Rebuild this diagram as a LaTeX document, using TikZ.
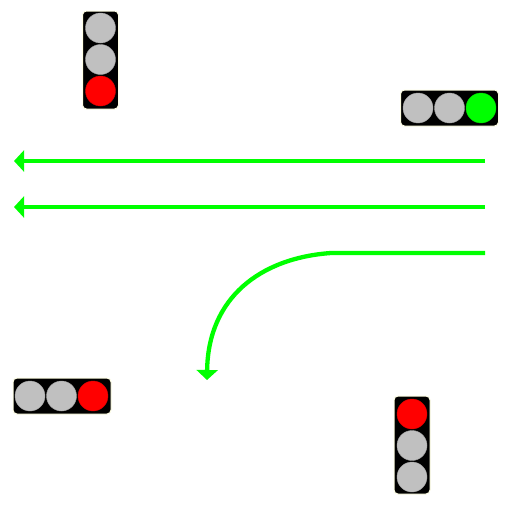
\documentclass[tikz,border=0pt]{standalone}
\usetikzlibrary{arrows.meta}
\definecolor{sigGreen}{HTML}{00FF00}
\definecolor{laneGreen}{HTML}{00FF00}
\definecolor{sigRed}{HTML}{FF0000}
\definecolor{sigOff}{HTML}{C0C0C0}
\definecolor{sigEdge}{HTML}{FFFFE6}
\tikzset{
  x=1pt,y=-1pt,
  housing/.style={draw=sigEdge,line width=1pt,fill=black,rounded corners=4pt,inner sep=0pt,outer sep=0pt},
  housingV/.style={housing,minimum width=36pt,minimum height=98pt},
  housingH/.style={housing,minimum width=98pt,minimum height=36pt},
  lamp/.style={circle,minimum size=30pt,inner sep=0pt,outer sep=0pt,draw=#1!85!black,line width=.4pt,fill=#1},
  lane/.style={draw=laneGreen,line width=4.3pt,-{Triangle[length=10pt,width=21pt,color=laneGreen]}},
}
\begin{document}
\begin{tikzpicture}
\useasboundingbox (0,0) rectangle (506,506);
% top-left signal
\node[housingV] (sigA) at (100.5,60) {};
\node[lamp=sigOff] (sigA1) at (100.5,28) {};
\node[lamp=sigOff] (sigA2) at (100.5,59.5) {};
\node[lamp=sigRed] (sigA3) at (100.5,91) {};
% top-right signal
\node[housingH] (sigB) at (449.5,108) {};
\node[lamp=sigOff] (sigB1) at (418,108) {};
\node[lamp=sigOff] (sigB2) at (449.5,108) {};
\node[lamp=sigGreen] (sigB3) at (481,108) {};
% bottom-left signal
\node[housingH] (sigC) at (62,396) {};
\node[lamp=sigOff] (sigC1) at (30,396) {};
\node[lamp=sigOff] (sigC2) at (61.5,396) {};
\node[lamp=sigRed] (sigC3) at (93,396) {};
% bottom-right signal
\node[housingV] (sigD) at (412,445) {};
\node[lamp=sigRed] (sigD1) at (412,414) {};
\node[lamp=sigOff] (sigD2) at (412,445.5) {};
\node[lamp=sigOff] (sigD3) at (412,477) {};
% lanes
\coordinate (l1s) at (485,161);
\coordinate (l1e) at (14,161);
\coordinate (l2s) at (485,207);
\coordinate (l2e) at (14,207);
\coordinate (l3s) at (485,253);
\coordinate (l3m) at (331,253);
\coordinate (l3e) at (207,380);
\draw[lane] (l1s) -- (l1e);
\draw[lane] (l2s) -- (l2e);
\draw[lane] (l3s) -- (l3m) .. controls (260,258) and (208,298) .. (l3e);
\end{tikzpicture}
\end{document}
